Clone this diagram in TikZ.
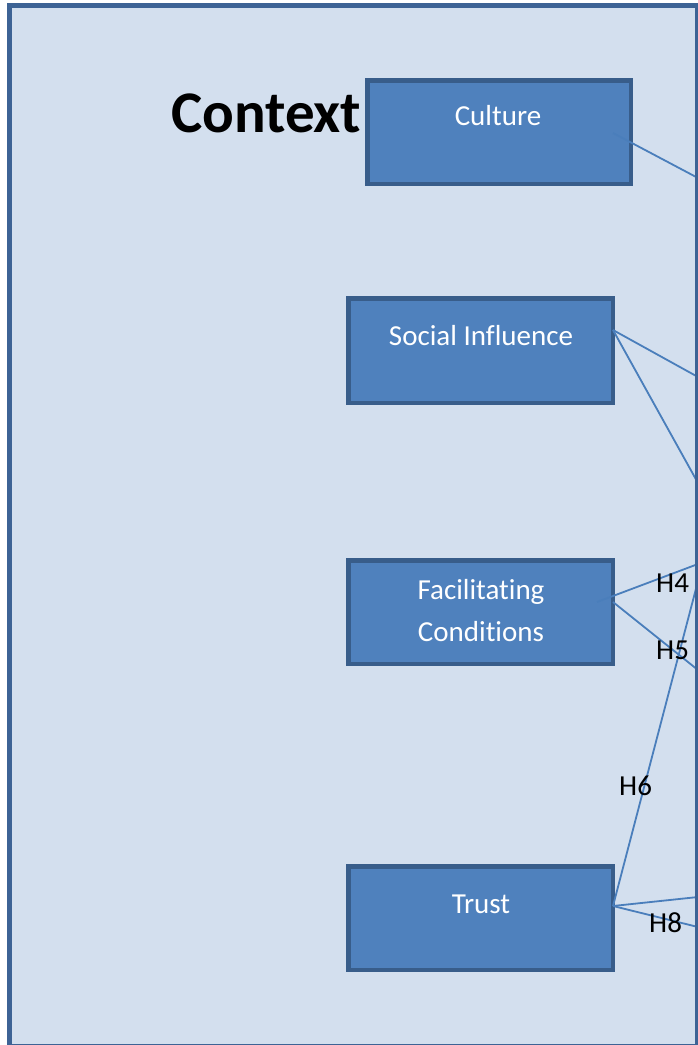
\documentclass[tikz,border=0pt]{standalone}
\usepackage{fontspec}
\setmainfont{Carlito}[Ligatures=NoCommon]
\definecolor{framefill}{HTML}{D3DFEE}
\definecolor{framedraw}{HTML}{3D6395}
\definecolor{boxfill}{HTML}{4F81BD}
\definecolor{boxdraw}{HTML}{385D8A}
\definecolor{linkcol}{HTML}{4A7EBB}
\begin{document}
\begin{tikzpicture}[x=1pt,y=-1pt,
  conbox/.style={draw=boxdraw,fill=boxfill,line width=4.5pt,rectangle,inner sep=0pt},
  boxtext/.style={text=white,font=\fontsize{29}{34}\selectfont,anchor=base,inner sep=0pt},
  hlabel/.style={text=black,font=\fontsize{29}{34}\selectfont,anchor=base west,inner sep=0pt},
  link/.style={draw=linkcol,line width=1.8pt}]
\useasboundingbox (0,0) rectangle (698,1045);
\clip (0,0) rectangle (698,1045);
% frame
\path[fill=framefill] (9,5) rectangle (697,1046.5);
% boxes
\path[conbox] (367.25,80.25) rectangle (630.75,183.75) node[midway,draw=none,fill=none] (culture) {};
\path[conbox] (348.25,298.25) rectangle (612.75,402.75) node[midway,draw=none,fill=none] (social) {};
\path[conbox] (348.25,560.25) rectangle (612.75,663.75) node[midway,draw=none,fill=none] (facil) {};
\path[conbox] (348.25,866.25) rectangle (612.75,969.75) node[midway,draw=none,fill=none] (trust) {};
% texts
\node[boxtext] (tculture) at (498,125) {Culture};
\node[boxtext] (tsocial) at (481,345) {Social Influence};
\node[boxtext] (tfacil1) at (481,599) {Facilitating};
\node[boxtext] (tfacil2) at (481,641) {Conditions};
\node[boxtext] (ttrust) at (481,913) {Trust};
\node[anchor=base west,inner sep=0pt,font=\fontsize{59}{64}\selectfont\bfseries] (context) at (171,132) {Context};
% connector endpoints
\coordinate (cs) at (613,133);
\coordinate (ce) at (698,178);
\coordinate (ss) at (613,330);
\coordinate (se1) at (698,377);
\coordinate (se2) at (698,483);
\coordinate (fs4) at (597,602);
\coordinate (fe4) at (698,564);
\coordinate (fs5) at (613,602);
\coordinate (fe5) at (698,670);
\coordinate (ts) at (613,906);
\coordinate (te6) at (698,581);
\coordinate (te7) at (698,897);
\coordinate (te8) at (698,927);
\draw[link] (cs) -- (ce);
\draw[link] (ss) -- (se1);
\draw[link] (ss) -- (se2);
\draw[link] (fs4) -- (fe4);
\draw[link] (fs5) -- (fe5);
\draw[link] (ts) -- (te6);
\draw[link] (ts) -- (te7);
\draw[link] (ts) -- (te8);
% labels
\node[hlabel] (h4) at (656,592) {H4};
\node[hlabel] (h5) at (656,659) {H5};
\node[hlabel] (h6) at (619,795) {H6};
\node[hlabel] (h8) at (649,932) {H8};
% frame border
\draw[framedraw,line width=5pt] (9,5) rectangle (697,1046.5);
\end{tikzpicture}
\end{document}
